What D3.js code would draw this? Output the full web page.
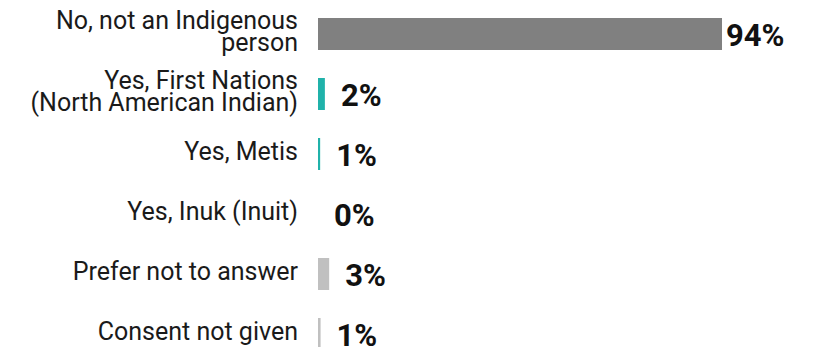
<!DOCTYPE html>
<html>
<head>
<meta charset="utf-8">
<script src="https://cdn.jsdelivr.net/npm/d3@7"></script>
<style>
  html, body { margin: 0; padding: 0; background: #ffffff; }
  svg { display: block; }
</style>
</head>
<body>
<svg id="chart" width="818" height="347"></svg>
<script>
// ---- data ----
const categories = [
  "No, not an Indigenous person",
  "Yes, First Nations (North American Indian)",
  "Yes, Metis",
  "Yes, Inuk (Inuit)",
  "Prefer not to answer",
  "Consent not given"
];
const labelLines = [
  ["No, not an Indigenous", "person"],
  ["Yes, First Nations", "(North American Indian)"],
  ["Yes, Metis"],
  ["Yes, Inuk (Inuit)"],
  ["Prefer not to answer"],
  ["Consent not given"]
];
const values = [94, 1.6, 0.5, 0, 2.6, 0.6];
const valueLabels = ["94%", "2%", "1%", "0%", "3%", "1%"];
const colors = ["#808080", "#20b2aa", "#20b2aa", "#20b2aa", "#c0c0c0", "#c0c0c0"];

// ---- layout ----
const W = 818, H = 347;
const svg = d3.select("#chart");

const x = d3.scaleLinear().domain([0, 100]).range([318, 747.8]);
const y = d3.scaleBand().domain(categories).range([4, 364])
  .paddingInner(28 / 60).paddingOuter(14 / 60);

const rows = categories.map((c, i) => ({
  cat: c, lines: labelLines[i], v: values[i], lab: valueLabels[i], color: colors[i]
}));

svg.selectAll("rect.bar").data(rows).join("rect")
  .attr("class", "bar")
  .attr("x", x(0))
  .attr("y", d => y(d.cat))
  .attr("width", d => x(d.v) - x(0))
  .attr("height", y.bandwidth())
  .attr("fill", d => d.color);

// category labels
const lineH = 22;
const lab = svg.selectAll("text.cat").data(rows).join("text")
  .attr("class", "cat")
  .attr("text-anchor", "end")
  .attr("font-family", "Roboto, sans-serif")
  .attr("font-size", 25)
  .attr("fill", "#1a1a1a");
lab.each(function(d) {
  const cy = y(d.cat) + y.bandwidth() / 2;
  const n = d.lines.length;
  d3.select(this).selectAll("tspan").data(d.lines).join("tspan")
    .attr("x", 298)
    .attr("y", (l, i) => cy + 5.5 + (i - (n - 1) / 2) * lineH)
    .text(l => l);
});

// value labels
svg.selectAll("text.val").data(rows).join("text")
  .attr("class", "val")
  .attr("x", d => Math.min(x(d.v) + 16, W - 92))
  .attr("y", d => y(d.cat) + y.bandwidth() / 2 + 12)
  .attr("font-family", "Roboto, sans-serif")
  .attr("font-weight", 700)
  .attr("font-size", 31)
  .attr("fill", "#111")
  .text(d => d.lab);
</script>
</body>
</html>
